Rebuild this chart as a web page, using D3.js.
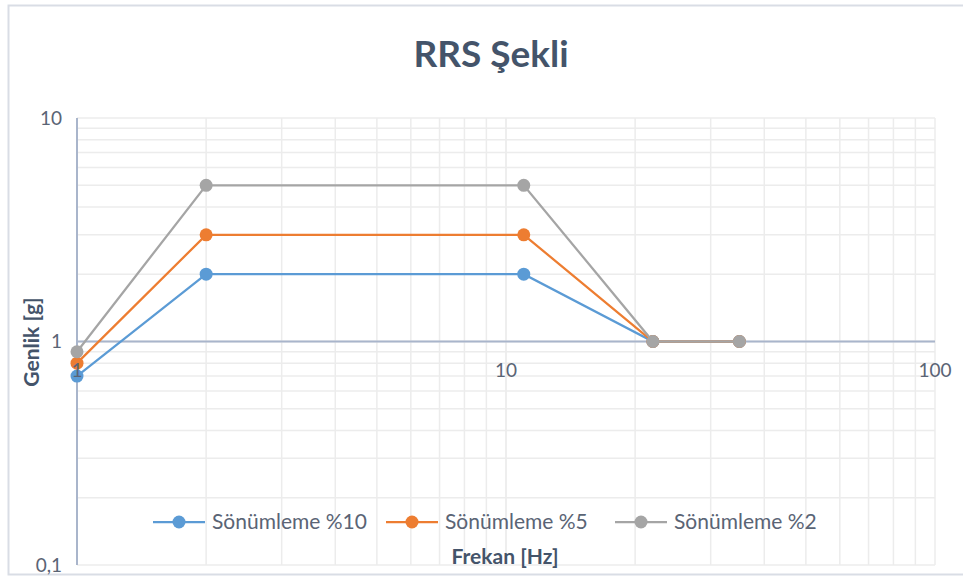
<!DOCTYPE html>
<html><head><meta charset="utf-8">
<script src="https://cdn.jsdelivr.net/npm/d3@7"></script>
<style>body{margin:0;background:#fff}svg{display:block}</style>
</head><body>
<svg id="c" width="963" height="579"></svg>
<script>
const freqs = [1, 2, 11, 22, 35];
const damp10 = [0.7, 2, 2, 1, 1];
const damp5 = [0.8, 3, 3, 1, 1];
const damp2 = [0.9, 5, 5, 1, 1];
const seriesNames = ["Sönümleme %10", "Sönümleme %5", "Sönümleme %2"];
const seriesColors = ["#5b9bd5", "#ed7d31", "#a5a5a5"];
const xTicks = [1, 10, 100];
const xTickLabels = ["1", "10", "100"];
const yTicks = [0.1, 1, 10];
const yTickLabels = ["0,1", "1", "10"];
const title = "RRS Şekli";
const xTitle = "Frekan [Hz]";
const yTitle = "Genlik [g]";

const svg = d3.select("#c");
const font = "Lato, 'Open Sans', sans-serif";
const x = d3.scaleLog().domain([1, 100]).range([77, 935]);
const y = d3.scaleLog().domain([0.1, 10]).range([565, 118]);

// chart border
svg.append("rect").attr("x", 8.5).attr("y", 5.5).attr("width", 970).attr("height", 569)
  .attr("fill", "#fff").attr("stroke", "#d9dde5").attr("stroke-width", 2);

// gridlines
const minorX = [], minorY = [];
for (let d = 1; d < 100; d *= 10) for (let k = 1; k <= 10; k++) minorX.push(d * k);
for (let d = 0.1; d < 10; d *= 10) for (let k = 1; k <= 10; k++) minorY.push(+(d * k).toFixed(3));
const g = svg.append("g");
g.selectAll(".gx").data(minorX).join("line")
  .attr("x1", d => x(d)).attr("x2", d => x(d)).attr("y1", y(10)).attr("y2", y(0.1))
  .attr("stroke", "#ececec").attr("stroke-width", 1.5);
g.selectAll(".gy").data(minorY).join("line")
  .attr("y1", d => y(d)).attr("y2", d => y(d)).attr("x1", x(1)).attr("x2", x(100))
  .attr("stroke", "#ececec").attr("stroke-width", 1.5);

// axes lines
svg.append("line").attr("x1", x(1)).attr("x2", x(1)).attr("y1", y(10)).attr("y2", y(0.1))
  .attr("stroke", "#a9b5cb").attr("stroke-width", 2);
svg.append("line").attr("x1", x(1)).attr("x2", x(100)).attr("y1", y(1)).attr("y2", y(1))
  .attr("stroke", "#a9b5cb").attr("stroke-width", 2);

// y tick labels
svg.selectAll(".yl").data(yTicks).join("text")
  .attr("x", 62).attr("y", d => y(d)).attr("dy", "0.35em").attr("text-anchor", "end")
  .attr("font-family", font).attr("font-size", 19).attr("fill", "#5a6475")
  .text((d, i) => yTickLabels[i]);

// series
const allSeries = [damp10, damp5, damp2];
const line = d3.line().x(d => x(d[0])).y(d => y(d[1]));
allSeries.forEach((vals, i) => {
  const pts = freqs.map((f, j) => [f, vals[j]]);
  svg.append("path").attr("d", line(pts)).attr("fill", "none")
    .attr("stroke", seriesColors[i]).attr("stroke-width", 2.25);
  svg.selectAll(".p" + i).data(pts).join("circle")
    .attr("cx", d => x(d[0])).attr("cy", d => y(d[1])).attr("r", 6.5)
    .attr("fill", seriesColors[i]);
});

// x tick labels
svg.selectAll(".xl").data(xTicks).join("text")
  .attr("x", d => x(d)).attr("y", 370).attr("dy", "0.35em").attr("text-anchor", "middle")
  .attr("font-family", font).attr("font-size", 19).attr("fill", "#5a6475")
  .text((d, i) => xTickLabels[i]);

// title
svg.append("text").attr("x", 491).attr("y", 67).attr("text-anchor", "middle")
  .attr("font-family", font).attr("font-weight", "bold").attr("font-size", 37)
  .attr("fill", "#44546a").text(title);

// axis titles
svg.append("text").attr("x", 505).attr("y", 564).attr("text-anchor", "middle")
  .attr("font-family", font).attr("font-weight", "bold").attr("font-size", 21)
  .attr("fill", "#44546a").text(xTitle);
svg.append("text").attr("transform", "translate(39,342) rotate(-90)").attr("text-anchor", "middle")
  .attr("font-family", font).attr("font-weight", "bold").attr("font-size", 21)
  .attr("fill", "#44546a").text(yTitle);

// legend
const legX = [153, 386, 615];
seriesNames.forEach((n, i) => {
  const lg = svg.append("g").attr("transform", `translate(${legX[i]},522)`);
  lg.append("line").attr("x1", 0).attr("x2", 52).attr("y1", 0).attr("y2", 0)
    .attr("stroke", seriesColors[i]).attr("stroke-width", 2.25);
  lg.append("circle").attr("cx", 26).attr("cy", 0).attr("r", 6.5).attr("fill", seriesColors[i]);
  lg.append("text").attr("x", 59).attr("y", 0).attr("dy", "0.35em")
    .attr("font-family", font).attr("font-size", 21).attr("fill", "#5a6475").text(n);
});
</script>
</body></html>
